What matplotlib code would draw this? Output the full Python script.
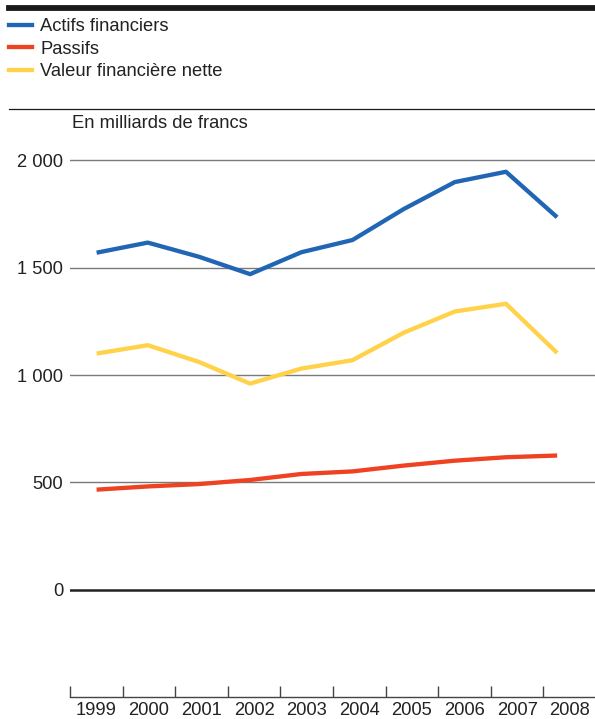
import matplotlib
matplotlib.use("Agg")
import matplotlib.pyplot as plt
from matplotlib.lines import Line2D

years = [1999, 2000, 2001, 2002, 2003, 2004, 2005, 2006, 2007, 2008]
actifs = [1570, 1617, 1551, 1470, 1572, 1629, 1773, 1899, 1947, 1735]
passifs = [466, 481, 492, 511, 539, 551, 578, 601, 617, 625]
valeur_nette = [1100, 1139, 1061, 960, 1030, 1069, 1197, 1296, 1332, 1103]
series_names = ["Actifs financiers", "Passifs", "Valeur financière nette"]
colors = ["#2166b4", "#ef4223", "#ffd24a"]
yticks = [0, 500, 1000, 1500, 2000]
ytick_labels = ["0", "500", "1 000", "1 500", "2 000"]
unit_label = "En milliards de francs"

plt.rcParams['font.family'] = ['Liberation Sans', 'DejaVu Sans']
FS = 13.2

W, H = 595, 719
fig = plt.figure(figsize=(W / 100, H / 100), dpi=100)

ax_left, ax_right = 70 / W, 1.0
ax_bottom, ax_top = 1 - 697 / H, 1 - 140 / H
ax = fig.add_axes([ax_left, ax_bottom, ax_right - ax_left, ax_top - ax_bottom])

for vals, c in zip([actifs, passifs, valeur_nette], colors):
    ax.plot(years, vals, color=c, lw=3.1, solid_capstyle='butt', zorder=3)

x0 = 1998.48
step = 1.028
ax.set_xlim(x0, 2008.74)
ax.set_ylim(-500, 2095)

for y in yticks:
    if y == 0:
        ax.axhline(y, color="#222222", lw=1.8, zorder=2)
    else:
        ax.axhline(y, color="#7a7a7a", lw=1.0, zorder=1)

ax.set_yticks(yticks)
ax.set_yticklabels(ytick_labels)
ax.tick_params(axis='y', length=0, pad=5, labelsize=FS, colors="#222222")

bounds = [x0 + k * step for k in range(len(years))]
centers = [x0 + (k + 0.5) * step for k in range(len(years))]
ax.set_xticks(bounds)
ax.set_xticklabels([])
ax.set_xticks(centers, minor=True)
ax.set_xticklabels([str(y) for y in years], minor=True)
ax.tick_params(axis='x', which='major', direction='in', length=8, width=1, color="#444444")
ax.tick_params(axis='x', which='minor', length=0, pad=3.5, labelsize=FS, labelcolor="#222222")

for s in ['top', 'right', 'left']:
    ax.spines[s].set_visible(False)
ax.spines['bottom'].set_color("#444444")
ax.spines['bottom'].set_linewidth(1.0)

# top thick bar and thin separator
fig.add_artist(Line2D([9 / W, 1.0], [1 - 8 / H, 1 - 8 / H], color="#1a1a1a", lw=4.2))
fig.add_artist(Line2D([9 / W, 1.0], [1 - 109 / H, 1 - 109 / H], color="#1a1a1a", lw=0.9))

handles = [Line2D([], [], color=c, lw=3.1) for c in colors]
fig.legend(handles, series_names, loc='upper left', bbox_to_anchor=(2 / W, 1 - 11 / H),
           frameon=False, fontsize=FS, handlelength=1.25, handletextpad=0.45,
           labelspacing=0.3, borderaxespad=0, labelcolor="#222222")

fig.text(72 / W, 1 - 124 / H, unit_label, fontsize=FS, va='center', ha='left', color="#222222")

fig.savefig("out.png", dpi=100)
